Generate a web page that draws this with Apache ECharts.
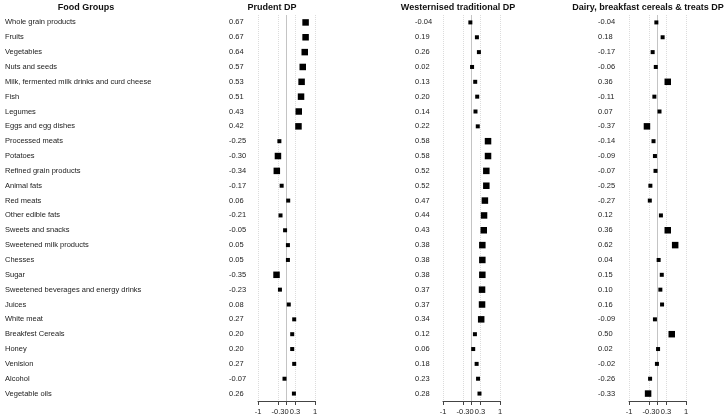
<!DOCTYPE html>
<html>
<head>
<meta charset="utf-8">
<script src="https://cdn.jsdelivr.net/npm/echarts@6/dist/echarts.min.js"></script>
<style>
  html, body { margin: 0; padding: 0; background: #fff; }
  #chart { width: 726px; height: 420px; }
</style>
</head>
<body>
<div id="chart"></div>
<script>
// food groups (rows, top to bottom)
var foods = ['Whole grain products', 'Fruits', 'Vegetables', 'Nuts and seeds',
  'Milk, fermented milk drinks and curd cheese', 'Fish', 'Legumes', 'Eggs and egg dishes',
  'Processed meats', 'Potatoes', 'Refined grain products', 'Animal fats', 'Red meats',
  'Other edible fats', 'Sweets and snacks', 'Sweetened milk products', 'Chesses', 'Sugar',
  'Sweetened beverages and energy drinks', 'Juices', 'White meat', 'Breakfest Cereals',
  'Honey', 'Venision', 'Alcohol', 'Vegetable oils'];

// factor loadings per dietary pattern
var prudent = [0.67, 0.67, 0.64, 0.57, 0.53, 0.51, 0.43, 0.42, -0.25, -0.30, -0.34, -0.17, 0.06,
  -0.21, -0.05, 0.05, 0.05, -0.35, -0.23, 0.08, 0.27, 0.20, 0.20, 0.27, -0.07, 0.26];
var western = [-0.04, 0.19, 0.26, 0.02, 0.13, 0.20, 0.14, 0.22, 0.58, 0.58, 0.52, 0.52, 0.47,
  0.44, 0.43, 0.38, 0.38, 0.38, 0.37, 0.37, 0.34, 0.12, 0.06, 0.18, 0.23, 0.28];
var dairy = [-0.04, 0.18, -0.17, -0.06, 0.36, -0.11, 0.07, -0.37, -0.14, -0.09, -0.07, -0.25, -0.27,
  0.12, 0.36, 0.62, 0.04, 0.15, 0.10, 0.16, -0.09, 0.50, 0.02, -0.02, -0.26, -0.33];

var panelTitles = ['Prudent DP', 'Westernised traditional DP', 'Dairy, breakfast cereals & treats DP'];
var ticks = [-1, -0.3, 0, 0.3, 1];

var panels = [prudent, western, dairy];

var font = "'Liberation Sans', Arial, sans-serif";
var gridLeft = [258, 443, 629];
var valueX = [229, 415, 598];
var titleX = [272, 458, 648];

var grids = [], xAxes = [], yAxes = [], series = [];

panels.forEach(function (vals, k) {
  grids.push({ left: gridLeft[k], width: 57, top: 15, bottom: 19 });

  xAxes.push({
    gridIndex: k, type: 'value', min: -1, max: 1,
    splitLine: { show: false },
    axisLine: { show: true, lineStyle: { color: '#444', width: 1 } },
    axisTick: { show: true, length: 4, customValues: ticks, lineStyle: { color: '#444' } },
    axisLabel: {
      customValues: ticks, hideOverlap: false, margin: 7,
      fontSize: 7.5, color: '#222', fontFamily: font,
      formatter: function (v) { return String(v); }
    }
  });

  // value column for this panel
  yAxes.push({
    gridIndex: k, type: 'category', data: foods, inverse: true,
    axisLine: { show: false }, axisTick: { show: false }, splitLine: { show: false },
    axisLabel: {
      align: 'left', margin: gridLeft[k] - valueX[k], interval: 0,
      fontSize: 7.5, color: '#222', fontFamily: font,
      formatter: function (v, i) { return vals[i].toFixed(2); }
    }
  });

  var refLines = ticks.map(function (t) {
    return t === 0
      ? { xAxis: t, lineStyle: { color: '#c4c4c4', type: 'solid', width: 1 } }
      : { xAxis: t, lineStyle: { color: '#dcdcdc', type: 'dotted', width: 1 } };
  });

  series.push({
    type: 'scatter', xAxisIndex: k, yAxisIndex: k, symbol: 'rect',
    data: vals.map(function (v, i) { return [v, foods[i]]; }),
    symbolSize: function (d) { return Math.abs(d[0]) >= 0.3 ? 6.5 : 4; },
    itemStyle: { color: '#000', opacity: 1 },
    silent: true,
    markLine: { silent: true, symbol: 'none', label: { show: false }, data: refLines, z: 1 },
    z: 3
  });
});

// food group names: a narrow grid of its own on the left
grids.push({ left: 5, width: 10, top: 15, bottom: 19 });
xAxes.push({ gridIndex: 3, type: 'value', show: false });
yAxes.push({
  gridIndex: 3, type: 'category', data: foods, inverse: true,
  axisLine: { show: false }, axisTick: { show: false }, splitLine: { show: false },
  axisLabel: { align: 'left', margin: 0, interval: 0, fontSize: 7.5, color: '#222', fontFamily: font }
});

var headers = [{ text: 'Food Groups', x: 86 }].concat(panelTitles.map(function (t, k) {
  return { text: t, x: titleX[k] };
}));

var chart = echarts.init(document.getElementById('chart'));
chart.setOption({
  animation: false,
  grid: grids,
  xAxis: xAxes,
  yAxis: yAxes,
  series: series,
  graphic: headers.map(function (h) {
    return {
      type: 'text', x: h.x, y: 8,
      style: { text: h.text, textAlign: 'center', textVerticalAlign: 'middle',
        font: 'bold 9px ' + font, fill: '#111' }
    };
  })
});
</script>
</body>
</html>
